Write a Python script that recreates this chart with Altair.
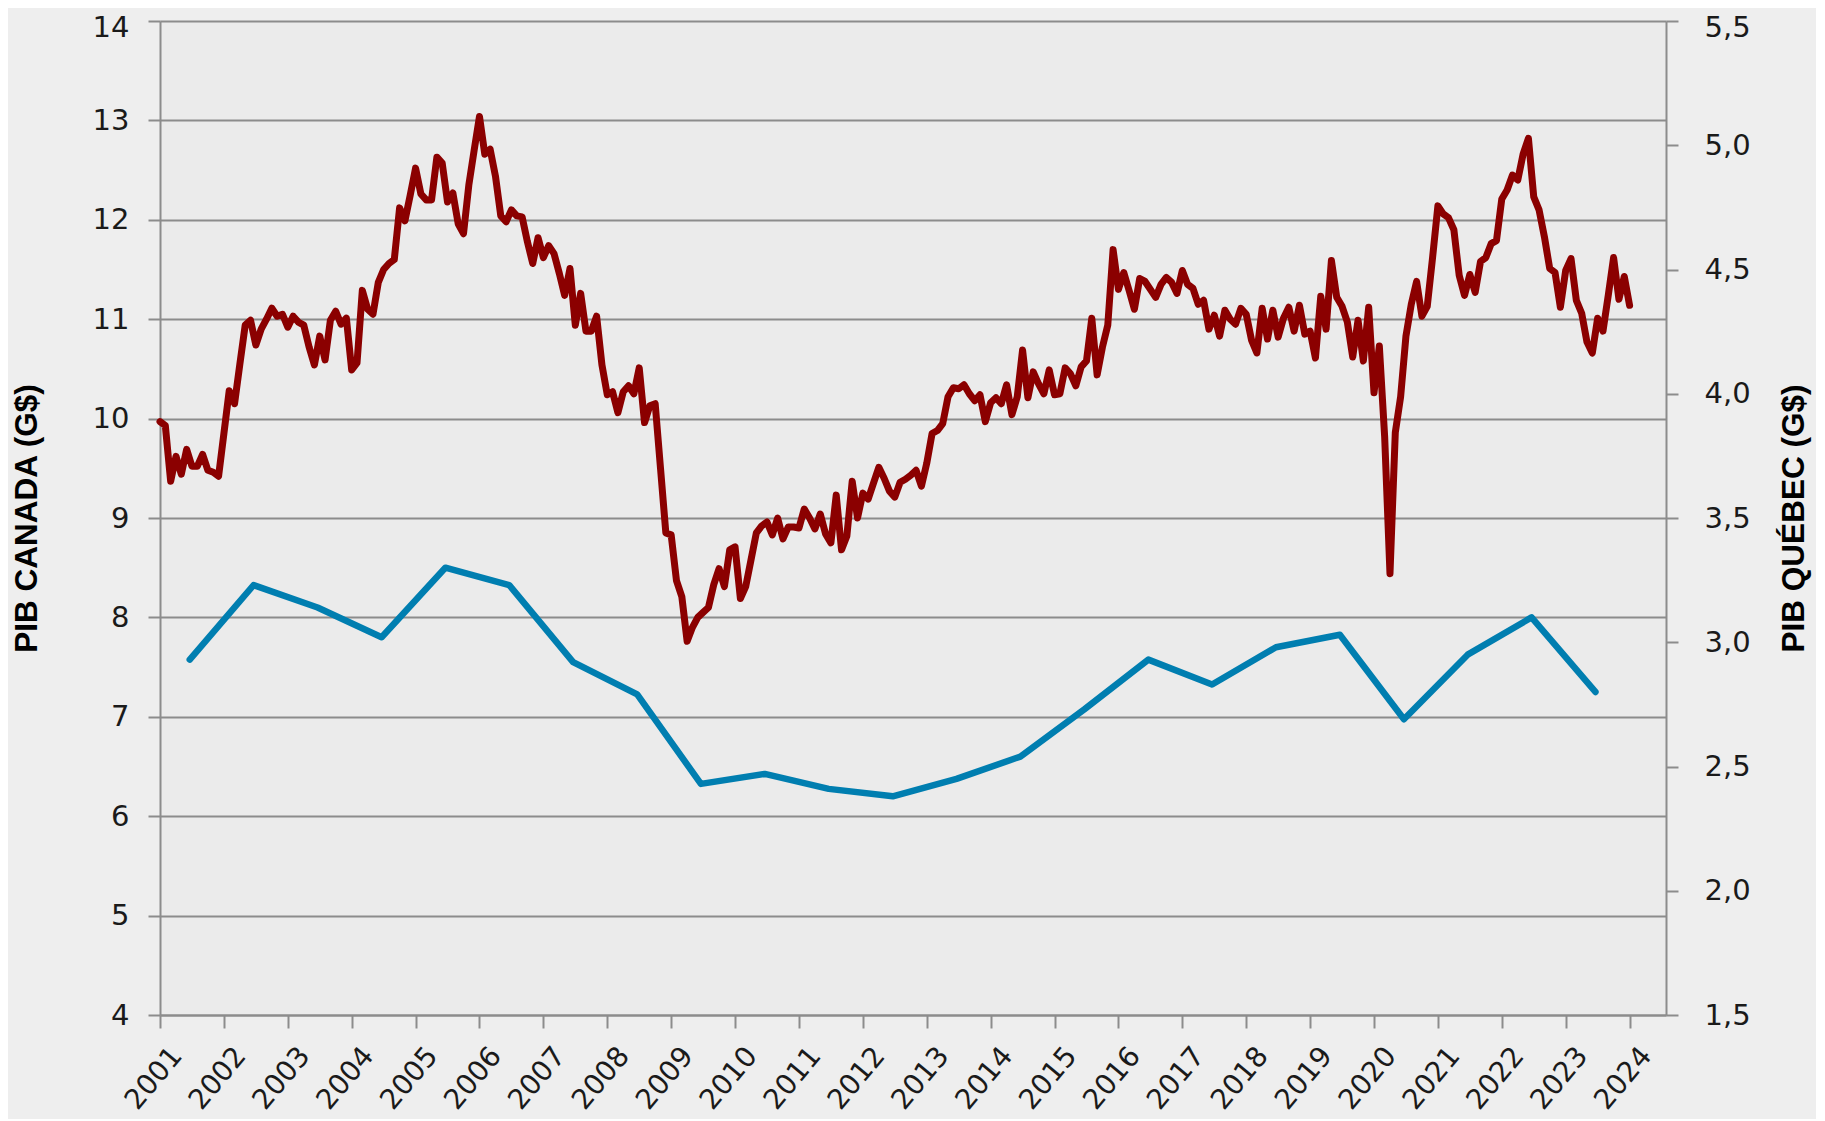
import altair as alt
import pandas as pd

# ---------------- data ----------------
canada_start = "2001-01"  # monthly series, Jan 2001 -> Jan 2024
canada_values = [
    9.97, 9.93, 9.37, 9.62, 9.44, 9.69, 9.52, 9.52, 9.64, 9.48, 9.46, 9.42,        # 2001
    9.85, 10.28, 10.15, 10.55, 10.94, 10.99, 10.74, 10.90, 11.0, 11.11, 11.03, 11.05,  # 2002
    10.92, 11.03, 10.97, 10.94, 10.72, 10.54, 10.83, 10.59, 10.99, 11.08, 10.95, 11.01,  # 2003
    10.49, 10.56, 11.29, 11.1, 11.05, 11.37, 11.5, 11.56, 11.6, 12.12, 11.99, 12.25,   # 2004
    12.52, 12.26, 12.2, 12.2, 12.63, 12.57, 12.18, 12.27, 11.96, 11.86, 12.35, 12.7,   # 2005
    13.04, 12.66, 12.71, 12.44, 12.04, 11.98, 12.1, 12.04, 12.03, 11.78, 11.56, 11.82,  # 2006
    11.62, 11.74, 11.66, 11.46, 11.24, 11.51, 10.94, 11.26, 10.88, 10.88, 11.03, 10.54,  # 2007
    10.24, 10.27, 10.06, 10.27, 10.33, 10.25, 10.51, 9.96, 10.13, 10.15, 9.5, 8.85,    # 2008
    8.83, 8.37, 8.21, 7.76, 7.9, 8.0, 8.05, 8.1, 8.33, 8.49, 8.31, 8.68,              # 2009
    8.71, 8.19, 8.31, 8.58, 8.85, 8.92, 8.96, 8.83, 9.0, 8.79, 8.91, 8.91,            # 2010
    8.9, 9.09, 9.0, 8.89, 9.04, 8.84, 8.75, 9.23, 8.68, 8.82, 9.37, 9.0,              # 2011
    9.25, 9.19, 9.35, 9.51, 9.4, 9.27, 9.21, 9.36, 9.39, 9.43, 9.48, 9.32,            # 2012
    9.55, 9.85, 9.88, 9.95, 10.22, 10.31, 10.3, 10.34, 10.25, 10.18, 10.24, 9.97,     # 2013
    10.16, 10.21, 10.15, 10.34, 10.04, 10.22, 10.69, 10.21, 10.47, 10.35, 10.25, 10.49,  # 2014
    10.24, 10.25, 10.51, 10.45, 10.33, 10.52, 10.58, 11.01, 10.44, 10.72, 10.94, 11.70,  # 2015
    11.30, 11.47, 11.29, 11.1, 11.41, 11.38, 11.3, 11.22, 11.35, 11.42, 11.37, 11.26,  # 2016
    11.49, 11.35, 11.31, 11.15, 11.19, 10.9, 11.04, 10.83, 11.09, 11.0, 10.95, 11.11,  # 2017
    11.05, 10.79, 10.66, 11.11, 10.8, 11.09, 10.82, 11.01, 11.12, 10.88, 11.14, 10.85,  # 2018
    10.88, 10.61, 11.23, 10.9, 11.59, 11.22, 11.13, 10.97, 10.62, 10.99, 10.58, 11.12,  # 2019
    10.26, 10.73, 9.82, 8.44, 9.86, 10.22, 10.83, 11.15, 11.38, 11.03, 11.13, 11.62,   # 2020
    12.14, 12.06, 12.02, 11.9, 11.44, 11.24, 11.45, 11.27, 11.58, 11.62, 11.76, 11.79,  # 2021
    12.21, 12.3, 12.45, 12.4, 12.66, 12.82, 12.23, 12.1, 11.83, 11.51, 11.47, 11.12,   # 2022
    11.49, 11.61, 11.19, 11.06, 10.77, 10.66, 11.01, 10.88, 11.24, 11.62, 11.2, 11.43,  # 2023
    11.14,                                                                             # 2024
]

quebec_years = list(range(2001, 2024))
quebec_values = [2.93, 3.23, 3.14, 3.02, 3.30, 3.23, 2.92, 2.79, 2.43, 2.47, 2.41, 2.38,
                 2.45, 2.54, 2.73, 2.93, 2.83, 2.98, 3.03, 2.69, 2.95, 3.10, 2.80]

x_tick_years = list(range(2001, 2025))
left_ticks = list(range(4, 15))
right_ticks = [1.5, 2.0, 2.5, 3.0, 3.5, 4.0, 4.5, 5.0, 5.5]

# ---------------- tables ----------------
dates = pd.date_range(canada_start, periods=len(canada_values), freq="MS")
red_df = pd.DataFrame({"t": dates.year + (dates.month - 1) / 12.0, "v": canada_values})

qdates = pd.to_datetime([f"{y}-06-20" for y in quebec_years])
blue_df = pd.DataFrame({"t": qdates.year + (qdates.dayofyear - 1) / 365.0, "v": quebec_values})

# ---------------- styling ----------------
GRID = "#8C8C8C"
TXT = "#1A1A1A"
LABEL_FONT = "DejaVu Sans"
TITLE_FONT = "Liberation Sans"
W, H = 1506, 994

x_enc = alt.X(
    "t:Q",
    scale=alt.Scale(domain=[2001, 2024.57], nice=False, zero=False),
    axis=alt.Axis(
        values=x_tick_years, format="d", title=None, grid=False,
        labelAngle=310, labelAlign="right", labelBaseline="top",
        labelPadding=14, labelOffset=6, labelFlush=False, labelOverlap=False,
        labelFont=LABEL_FONT, labelFontSize=28, labelColor=TXT,
        tickSize=13, tickColor=GRID, tickWidth=2,
        domainColor=GRID, domainWidth=2,
    ),
)

red = alt.Chart(red_df).mark_line(
    color="#8B0000", strokeWidth=7, strokeJoin="round", strokeCap="round"
).encode(
    x=x_enc,
    y=alt.Y(
        "v:Q",
        scale=alt.Scale(domain=[4, 14], nice=False, zero=False),
        axis=alt.Axis(
            orient="left", values=left_ticks, format="d",
            grid=True, gridColor=GRID, gridWidth=2,
            tickSize=12, tickColor=GRID, tickWidth=2,
            domainColor=GRID, domainWidth=2,
            labelPadding=19, labelFont=LABEL_FONT, labelFontSize=29, labelColor=TXT,
            labelOffset={"condition": {"test": "datum.value == 14", "value": 6}, "value": 0},
            title="PIB CANADA (G$)", titleFont=TITLE_FONT, titleFontSize=31.5,
            titleFontWeight="bold", titleColor="#000000",
            titleAngle=270, titleBaseline="bottom", titleAlign="center",
            titleX=-117, titleY=H / 2,
        ),
    ),
)

blue = alt.Chart(blue_df).mark_line(
    color="#007EB0", strokeWidth=6.5, strokeJoin="round", strokeCap="round"
).encode(
    x=alt.X("t:Q"),
    y=alt.Y(
        "v:Q",
        scale=alt.Scale(domain=[1.5, 5.5], nice=False, zero=False),
        axis=alt.Axis(
            orient="right", values=right_ticks,
            labelExpr="replace(format(datum.value, '.1f'), '.', ',')",
            grid=False,
            tickSize=12, tickColor=GRID, tickWidth=2,
            domainColor=GRID, domainWidth=2,
            labelPadding=26, labelFont=LABEL_FONT, labelFontSize=29, labelColor=TXT,
            labelOffset={"condition": {"test": "datum.value == 5.5", "value": 6}, "value": 0},
            title="PIB QUÉBEC (G$)", titleFont=TITLE_FONT, titleFontSize=31.5,
            titleFontWeight="bold", titleColor="#000000",
            titleAngle=270, titleBaseline="top", titleAlign="center",
            titleX=112, titleY=H / 2,
        ),
    ),
)

chart = (
    alt.layer(red, blue)
    .resolve_scale(y="independent")
    .properties(
        width=W, height=H,
        autosize=alt.AutoSizeParams(type="none"),
        padding={"left": 152, "top": 13, "right": 150, "bottom": 104},
        background="#EEEEEE",
    )
    .configure_view(fill="#EBEBEB", strokeWidth=0)
)

chart.save("out.html", embed_options={"renderer": "svg", "actions": False})
